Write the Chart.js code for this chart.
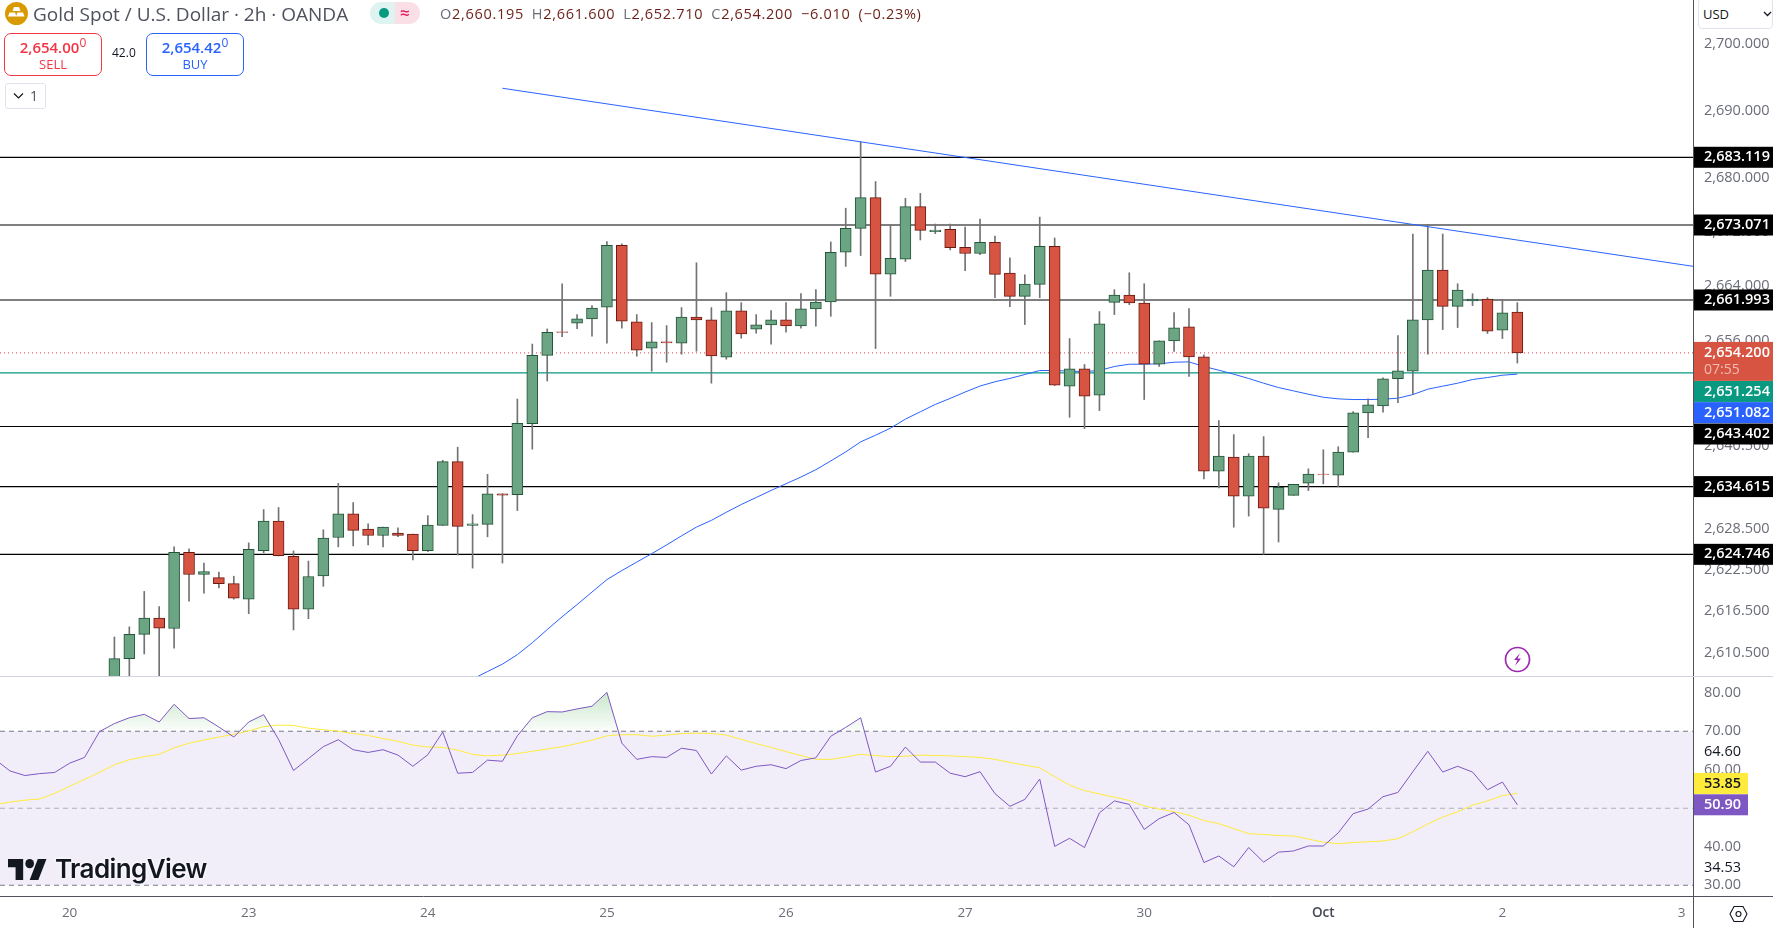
<!DOCTYPE html>
<html>
<head>
<meta charset="utf-8">
<script src="https://cdn.jsdelivr.net/npm/chart.js@4"></script>
<style>
  html, body { margin: 0; padding: 0; background: #fff; }
  body { width: 1773px; height: 928px; position: relative; overflow: hidden; font-family: "Open Sans", sans-serif; }
  canvas { position: absolute; left: 0; }
  .abs { position: absolute; white-space: nowrap; }
  #title { left: 33px; top: 1px; font-size: 19px; line-height: 26px; color: #4f525d; }
  #ohlc { left: 440px; top: 3px; font-size: 14.5px; line-height: 22px; color: #6b1f16; letter-spacing: 0.7px; word-spacing: 3.5px; }
  #ohlc i { font-style: normal; color: #6a6d78; }
  .trade { top: 33px; width: 96px; height: 41px; border-radius: 7px; border: 1px solid; text-align: center; background: #fff; }
  .trade b { display: block; font-size: 15px; line-height: 18px; margin-top: 4px; font-weight: 600; }
  .trade sup { font-size: 12px; font-weight: 400; line-height: 0; }
  .trade span { display: block; font-size: 13px; line-height: 17px; }
  #logoText { left: 55px; top: 853px; font-family: Inter, sans-serif; font-weight: 600; font-size: 26px; line-height: 32px; letter-spacing: -0.6px; color: #131722; text-shadow: 0 0 3px #fff, 0 0 3px #fff; }
</style>
</head>
<body>
<canvas id="price-chart" width="1773" height="677" style="top:0"></canvas>
<canvas id="rsi-chart" width="1773" height="251" style="top:677px"></canvas>

<svg class="abs" style="left:5px;top:2px" width="23" height="23" viewBox="0 0 23 23">
  <circle cx="11.5" cy="11.5" r="11.5" fill="#d99a00"/>
  <path d="M9 5h5l1.5 4h-8zM4.5 10.5h5.5l1.5 4h-8.500zM12.500 10.500h5.500l1.500 4h-8.500z" fill="#fff"/>
</svg>
<div id="title" class="abs">Gold Spot / U.S. Dollar · 2h · OANDA</div>
<div class="abs" style="left:370px;top:2px;width:25px;height:22px;background:#dff3f0;border-radius:11px 0 0 11px"></div>
<div class="abs" style="left:395px;top:2px;width:25px;height:22px;background:#fbdfe7;border-radius:0 11px 11px 0"></div>
<div class="abs" style="left:379px;top:8px;width:10px;height:10px;background:#089981;border-radius:5px"></div>
<div class="abs" style="left:400px;top:1px;font-size:17px;line-height:24px;color:#e91e63;font-weight:600">≈</div>
<div id="ohlc" class="abs"><i>O</i>2,660.195 <i>H</i>2,661.600 <i>L</i>2,652.710 <i>C</i>2,654.200 −6.010 (−0.23%)</div>

<div class="abs trade" style="left:4px;border-color:#f23645;color:#f23645"><b>2,654.00<sup>0</sup></b><span>SELL</span></div>
<div class="abs" style="left:112px;top:44px;font-size:12px;line-height:18px;color:#131722">42.0</div>
<div class="abs trade" style="left:146px;border-color:#2962ff;color:#2962ff"><b>2,654.42<sup>0</sup></b><span>BUY</span></div>
<div class="abs" style="left:5px;top:83px;width:39px;height:24px;border:1px solid #e0e3eb;border-radius:3px;background:#fff"></div>
<svg class="abs" style="left:13px;top:92px" width="11" height="8" viewBox="0 0 11 8"><path d="M1 1.500l4.500 4.500 4.500-4.500" fill="none" stroke="#131722" stroke-width="1.200"/></svg>
<div class="abs" style="left:30px;top:85px;font-size:14px;line-height:22px;color:#4f525d">1</div>

<div class="abs" style="left:1698px;top:-2px;width:75px;height:31px;border:1px solid #e0e3eb;border-radius:4px;box-sizing:border-box;background:#fff"></div>
<div class="abs" style="left:1703px;top:4px;font-size:13px;line-height:20px;color:#131722">USD</div>
<svg class="abs" style="left:1763px;top:11px" width="9" height="6" viewBox="0 0 9 6"><path d="M1 1l3.500 3.500 3.500-3.500" fill="none" stroke="#131722" stroke-width="1.300"/></svg>

<div class="abs" style="left:0;top:676px;width:1773px;height:1px;background:#d1d4dc"></div>
<div class="abs" style="left:1693px;top:896px;width:80px;height:1px;background:#50535e"></div>
<div class="abs" style="left:1693px;top:896px;width:1px;height:32px;background:#50535e"></div>

<svg class="abs" style="left:1504px;top:646px" width="27" height="27" viewBox="0 0 27 27">
  <circle cx="13.500" cy="13.500" r="12" fill="#fff" stroke="#9c27b0" stroke-width="1.700"/>
  <path d="M16 7l-6 7h3.500l-2.500 6 6-7.500h-3.500z" fill="#9c27b0"/>
</svg>
<svg class="abs" style="left:8px;top:859px" width="39" height="21" viewBox="0 4 36 18" preserveAspectRatio="none">
  <path d="M14 22H7V11H0V4h14v18zM28 22h-8l7.500-18h8L28 22z" fill="#131722"/><circle cx="20" cy="8" r="4" fill="#131722"/>
</svg>
<div id="logoText" class="abs">TradingView</div>
<svg class="abs" style="left:1729px;top:905px" width="19" height="18" viewBox="0 0 19 18">
  <path d="M5 1.500h9l4 7.500-4 7.500H5L1 9z" fill="none" stroke="#131722" stroke-width="1.100"/><circle cx="9.500" cy="9" r="2.500" fill="none" stroke="#131722" stroke-width="1.100"/>
</svg>

<script>
const xMin = 0.335;
const xMax = 113.77;
const firstCandle = 8;
const firstAverage = 31;

const opens = [
  2605.3, 2609.62, 2613.14, 2615.49, 2613.98, 2625.04, 2621.81, 2621.37, 2620.49, 2618.24,
  2625.29, 2629.6, 2624.46, 2616.77, 2621.62, 2627.2, 2630.63, 2628.42, 2627.49, 2627.84,
  2627.69, 2625.29, 2628.96, 2638.27, 2628.96, 2629.11, 2633.56, 2633.42, 2643.8, 2653.84,
  2657.29, 2658.56, 2659.2, 2660.92, 2670.07, 2658.76, 2654.89, 2655.82, 2655.63, 2659.49,
  2659.05, 2653.57, 2660.38, 2657.68, 2658.32, 2659.05, 2658.17, 2660.67, 2661.7, 2669.04,
  2672.57, 2677.13, 2665.81, 2668.02, 2675.8, 2672.08, 2672.42, 2669.78, 2668.85, 2670.51,
  2665.96, 2662.53, 2664.29, 2669.93, 2649.31, 2651.86, 2647.99, 2661.65, 2662.73, 2661.55,
  2652.54, 2655.97, 2658.03, 2653.62, 2636.87, 2638.93, 2633.2, 2639.08, 2631.3, 2633.34,
  2635.11, 2636.43, 2636.28, 2639.66, 2645.39, 2646.42, 2650.4, 2651.51, 2659.06, 2666.4,
  2661.06, 2661.85, 2662.14, 2657.54, 2660.195,
];
const closes = [
  2609.62, 2613.14, 2615.49, 2614.03, 2625.04, 2621.81, 2622.25, 2620.49, 2618.38, 2625.48,
  2629.6, 2624.55, 2616.77, 2621.52, 2627.1, 2630.63, 2628.23, 2627.49, 2628.72, 2627.49,
  2625.29, 2629.01, 2638.27, 2628.81, 2629.2, 2633.56, 2633.37, 2643.85, 2653.84, 2657.24,
  2657.2, 2659.2, 2660.81, 2670.07, 2658.86, 2654.6, 2655.82, 2655.67, 2659.49, 2659.05,
  2653.76, 2660.38, 2657.0, 2658.32, 2659.05, 2658.17, 2660.67, 2661.7, 2669.04, 2672.57,
  2677.13, 2665.81, 2668.16, 2675.8, 2672.28, 2672.33, 2669.73, 2668.85, 2670.51, 2665.76,
  2662.53, 2664.34, 2669.93, 2649.46, 2651.86, 2647.84, 2658.47, 2662.73, 2661.55, 2652.54,
  2655.97, 2657.88, 2653.62, 2636.87, 2639.08, 2633.2, 2639.08, 2631.45, 2634.52, 2634.96,
  2636.43, 2636.38, 2639.66, 2645.39, 2646.57, 2650.4, 2651.56, 2659.06, 2666.4, 2661.06,
  2663.46, 2662.14, 2657.39, 2660.08, 2654.2,
];
const highs = [
  2612.75, 2614.22, 2619.36, 2617.16, 2625.83, 2625.53, 2623.48, 2622.15, 2621.57, 2626.41,
  2631.26, 2631.56, 2625.24, 2623.77, 2628.32, 2635.08, 2632.29, 2629.2, 2628.72, 2628.62,
  2627.7, 2630.38, 2638.46, 2640.37, 2630.53, 2636.4, 2633.56, 2647.42, 2655.5, 2657.73,
  2664.39, 2659.84, 2661.16, 2670.61, 2670.27, 2659.84, 2658.66, 2658.22, 2660.87, 2667.48,
  2660.87, 2663.07, 2661.6, 2659.84, 2660.43, 2661.6, 2662.92, 2663.51, 2670.56, 2675.56,
  2685.4, 2679.52, 2673.06, 2677.03, 2677.76, 2673.21, 2673.21, 2672.77, 2673.94, 2671.44,
  2668.21, 2665.71, 2674.24, 2671.15, 2656.31, 2652.49, 2660.28, 2663.51, 2666.01, 2664.39,
  2655.97, 2660.13, 2660.72, 2653.9, 2644.27, 2642.21, 2639.42, 2641.92, 2635.16, 2634.96,
  2637.21, 2640.0, 2640.44, 2645.59, 2647.45, 2650.53, 2656.75, 2671.74, 2673.16, 2671.74,
  2664.39, 2662.92, 2662.34, 2662.04, 2661.6,
];
const lows = [
  2604, 2605, 2610.3, 2605, 2611.14, 2617.94, 2619.12, 2619.85, 2618.24, 2616.13,
  2624.99, 2624.5, 2613.78, 2615.4, 2620.1, 2625.83, 2625.97, 2626.12, 2625.83, 2627.3,
  2623.92, 2625.14, 2628.96, 2624.65, 2622.74, 2627.3, 2623.48, 2631.12, 2640.08, 2650.07,
  2656.6, 2657.78, 2656.65, 2655.63, 2657.83, 2653.72, 2651.51, 2652.83, 2654.01, 2654.45,
  2649.75, 2653.27, 2656.36, 2657.1, 2655.48, 2657.24, 2657.83, 2658.12, 2659.59, 2666.94,
  2668.55, 2654.84, 2662.53, 2667.67, 2670.86, 2671.79, 2669.39, 2666.3, 2668.7, 2662.33,
  2661.01, 2658.37, 2662.33, 2649.4, 2644.75, 2643.09, 2645.73, 2659.84, 2661.31, 2647.35,
  2652.2, 2654.4, 2650.73, 2635.74, 2634.42, 2628.69, 2630.31, 2624.75, 2626.54, 2633.34,
  2634.03, 2635.01, 2634.57, 2639.66, 2641.77, 2645.49, 2646.91, 2648.1, 2654.01, 2657.63,
  2657.93, 2661.16, 2657.05, 2656.31, 2652.71,
];
const priceAverage = [
  2605.8, 2606.68, 2607.76, 2608.83, 2610.2, 2611.92, 2613.83, 2615.69, 2617.45, 2619.27,
  2621.07, 2622.39, 2623.62, 2624.84, 2626.11, 2627.44, 2628.71, 2629.69, 2630.87, 2632.0,
  2633.02, 2634.05, 2635.03, 2636.01, 2637.08, 2638.36, 2639.68, 2641.15, 2642.13, 2643.16,
  2644.48, 2645.56, 2646.63, 2647.52, 2648.45, 2649.33, 2649.96, 2650.45, 2651.02, 2651.61,
  2651.61, 2651.51, 2651.46, 2651.61, 2652.2, 2652.54, 2652.54, 2652.59, 2652.83, 2652.88,
  2652.2, 2651.66, 2651.07, 2650.44, 2649.75, 2649.11, 2648.62, 2648.13, 2647.69, 2647.45,
  2647.35, 2647.35, 2647.4, 2647.55, 2648.08, 2648.87, 2649.31, 2649.75, 2650.29, 2650.58,
  2650.92, 2651.082,
];
const rsiValues = [
  62.7, 59.7, 58.5, 59.0, 59.3, 61.7, 63.2, 69.9, 72.0, 73.5,
  74.4, 72.4, 77.0, 73.3, 73.5, 71.1, 68.5, 72.4, 74.3, 67.9,
  59.8, 62.9, 66.0, 67.8, 65.2, 64.5, 65.2, 63.8, 60.9, 63.9,
  69.8, 59.1, 59.3, 62.5, 62.2, 68.8, 73.5, 75.1, 75.0, 75.8,
  76.5, 80.1, 66.9, 62.7, 63.4, 63.2, 65.6, 65.0, 58.9, 63.6,
  59.9, 60.9, 61.3, 60.3, 62.4, 63.1, 68.7, 71.0, 73.5, 59.4,
  60.9, 65.9, 62.0, 62.0, 59.1, 58.2, 59.5, 53.8, 50.5, 52.3,
  57.6, 40.1, 42.2, 39.8, 48.8, 51.9, 51.0, 44.5, 47.3, 48.9,
  45.7, 35.9, 37.6, 34.8, 39.8, 36.0, 38.6, 38.9, 40.2, 40.2,
  43.6, 48.6, 49.8, 53.0, 54.1, 59.5, 64.8, 59.4, 60.9, 59.4,
  54.8, 56.8, 50.9,
];
const rsiAverage = [
  50.9, 51.6, 52.1, 52.4, 53.9, 55.7, 57.5, 59.3, 61.3, 62.6,
  63.4, 64.0, 65.7, 66.9, 67.7, 68.5, 69.2, 70.1, 71.2, 71.6,
  71.5, 70.8, 70.4, 70.0, 69.4, 68.9, 68.1, 67.4, 66.4, 65.9,
  65.8, 65.1, 64.0, 63.6, 63.8, 64.2, 64.8, 65.4, 66.0, 66.8,
  67.7, 68.8, 69.1, 69.1, 68.7, 69.0, 69.4, 69.5, 69.4, 69.0,
  67.9, 66.8, 65.8, 64.7, 63.7, 62.7, 62.7, 63.3, 64.0, 63.7,
  63.4, 63.5, 63.8, 63.7, 63.6, 63.4, 63.2, 62.7, 61.9, 61.2,
  60.5, 58.2, 56.0, 54.6, 53.7, 52.9, 52.0, 50.6, 49.8, 49.1,
  48.2, 46.8, 46.0, 44.7, 43.4, 43.2, 42.9, 42.8, 42.0, 41.2,
  40.8, 41.1, 41.3, 41.5, 42.1, 43.9, 45.9, 47.7, 49.1, 50.8,
  51.9, 53.3, 53.85,
];

const levels = [2683.119, 2673.071, 2661.993, 2643.402, 2634.615, 2624.746];
const lastPrice = 2654.2;
const currentLine = 2651.254;
const trendBars = [34, 113.77];
const trendPrices = [2693.4, 2666.96];

const priceTicks = [2700, 2690, 2680, 2672, 2664, 2656, 2648, 2640.5, 2634.5, 2628.5, 2622.5, 2616.5, 2610.5];
const rsiTicks = [80, 70, 64.6, 60, 40, 34.53, 30];
const rsiMarked = [64.6, 34.53];
const dayBars = [5, 17, 29, 41, 53, 65, 77, 89, 101, 113];
const dayLabels = ["20", "23", "24", "25", "26", "27", "30", "Oct", "2", "3"];

const axisFont = { family: "'Open Sans', sans-serif", size: 14.5 };
const tagFont = "600 14.5px 'Open Sans', sans-serif";
const green = "#6ba583";
const greenEdge = "#225437";
const red = "#d75442";
const redEdge = "#6b1a12";

function seriesFrom(start, values) {
  return values.map((y, i) => ({ x: start + i, y }));
}

function hLine(value, color, width, dash, order) {
  return {
    type: "line",
    data: [{ x: xMin, y: value }, { x: xMax, y: value }],
    borderColor: color,
    borderWidth: width,
    borderDash: dash,
    pointRadius: 0,
    order,
  };
}

function yAxis(min, max, ticks, format, color) {
  return {
    position: "right",
    min,
    max,
    afterBuildTicks: (scale) => {
      scale.ticks = ticks.map((value) => ({ value }));
    },
    afterFit: (scale) => {
      scale.width = 80;
      scale.paddingTop = 0;
      scale.paddingBottom = 0;
    },
    grid: { display: false, drawTicks: false },
    border: { display: true, color: "#50535e" },
    ticks: { autoSkip: false, padding: 11, crossAlign: "near", font: axisFont, color, callback: format },
  };
}

function money(value, digits) {
  return value.toLocaleString("en-US", { minimumFractionDigits: digits, maximumFractionDigits: digits });
}

// tag boxes on the right axis, offset is the shift TradingView uses to stop them overlapping
function drawTag(chart, scale, value, fill, ink, width, digits, offset) {
  const ctx = chart.ctx;
  const y = scale.getPixelForValue(value) + offset;
  ctx.save();
  ctx.fillStyle = fill;
  ctx.fillRect(scale.left + 1, y - 10.5, width, 21);
  ctx.fillStyle = ink;
  ctx.font = tagFont;
  ctx.textBaseline = "middle";
  ctx.fillText(money(value, digits), scale.left + 11, y);
  ctx.restore();
}

const priceTags = {
  id: "priceTags",
  afterDraw(chart) {
    const scale = chart.scales.y;
    const ctx = chart.ctx;
    levels.forEach((level) => {
      drawTag(chart, scale, level, "#000", "#fff", 79, 3, level === 2643.402 ? 7.5 : 0);
    });
    const y = scale.getPixelForValue(lastPrice);
    ctx.save();
    ctx.fillStyle = red;
    ctx.fillRect(scale.left + 1, y - 11, 79, 39);
    ctx.fillStyle = "#fff";
    ctx.font = tagFont;
    ctx.textBaseline = "middle";
    ctx.fillText(money(lastPrice, 3), scale.left + 11, y - 0.5);
    ctx.fillStyle = "rgba(255,255,255,0.6)";
    ctx.font = "14px 'Open Sans', sans-serif";
    ctx.fillText("07:55", scale.left + 11, y + 17.5);
    ctx.restore();
    drawTag(chart, scale, currentLine, "#089981", "#fff", 79, 3, 18.5);
    drawTag(chart, scale, priceAverage[priceAverage.length - 1], "#2962ff", "#fff", 79, 3, 38.5);
  },
};

const rsiTags = {
  id: "rsiTags",
  afterDraw(chart) {
    const scale = chart.scales.y;
    drawTag(chart, scale, rsiAverage[rsiAverage.length - 1], "#ffeb3b", "#131722", 54, 2, -10);
    drawTag(chart, scale, rsiValues[rsiValues.length - 1], "#7e57c2", "#fff", 54, 2, 0);
  },
};

const candleBars = closes.map((_, i) => firstCandle + i);

new Chart(document.getElementById("price-chart"), {
  type: "bar",
  data: {
    datasets: [
      ...levels.map((level) => hLine(level, "#000", 1.2, [], 7)),
      hLine(lastPrice, "#f23645", 1, [1, 3], 6),
      hLine(currentLine, "#089981", 1.2, [], 6),
      {
        type: "line",
        data: seriesFrom(firstAverage, priceAverage),
        borderColor: "#2962ff",
        borderWidth: 1,
        pointRadius: 0,
        order: 5,
      },
      {
        data: candleBars.map((x, i) => ({ x, y: [lows[i], highs[i]] })),
        backgroundColor: "#737375",
        borderWidth: 0,
        barThickness: 1,
        grouped: false,
        order: 4,
      },
      {
        data: candleBars.map((x, i) => ({ x, y: [opens[i], closes[i]] })),
        backgroundColor: closes.map((c, i) => (c >= opens[i] ? green : red)),
        borderColor: closes.map((c, i) => (c >= opens[i] ? greenEdge : redEdge)),
        borderWidth: 1,
        borderSkipped: false,
        barThickness: 11,
        grouped: false,
        order: 3,
      },
      {
        type: "line",
        data: trendBars.map((x, i) => ({ x, y: trendPrices[i] })),
        borderColor: "#2962ff",
        borderWidth: 1,
        pointRadius: 0,
        order: 1,
      },
    ],
  },
  options: {
    responsive: false,
    animation: false,
    events: [],
    devicePixelRatio: 1,
    layout: { padding: 0, autoPadding: false },
    plugins: { legend: { display: false }, tooltip: { enabled: false } },
    scales: {
      x: { type: "linear", display: false, min: xMin, max: xMax, offset: false },
      // the source price pane is on a log scale, spacing shrinks towards the top
      y: { ...yAxis(2606.97, 2706.6, priceTicks, (v) => money(v, 3), "#6a6d78"), type: "logarithmic" },
    },
  },
  plugins: [priceTags],
});

const rsiChart = new Chart(document.getElementById("rsi-chart"), {
  type: "line",
  data: {
    datasets: [
      {
        data: [{ x: xMin, y: 70 }, { x: xMax, y: 70 }],
        borderWidth: 0,
        pointRadius: 0,
        backgroundColor: "rgba(126,87,194,0.1)",
        fill: { value: 30 },
        order: 9,
      },
      hLine(70, "#787b86", 1, [5, 4], 8),
      hLine(50, "rgba(120,123,134,0.55)", 1, [5, 4], 8),
      hLine(30, "#787b86", 1, [5, 4], 8),
      {
        data: seriesFrom(0, rsiAverage),
        borderColor: "#ffeb3b",
        borderWidth: 1,
        pointRadius: 0,
        order: 2,
      },
      {
        data: seriesFrom(0, rsiValues),
        borderColor: "#7e57c2",
        borderWidth: 1,
        pointRadius: 0,
        fill: { target: { value: 70 }, above: "rgba(76,175,80,0.2)", below: "rgba(0,0,0,0)" },
        order: 1,
      },
    ],
  },
  options: {
    responsive: false,
    animation: false,
    events: [],
    devicePixelRatio: 1,
    layout: { padding: 0, autoPadding: false },
    plugins: { legend: { display: false }, tooltip: { enabled: false } },
    scales: {
      x: {
        type: "linear",
        position: "bottom",
        min: xMin,
        max: xMax,
        afterBuildTicks: (scale) => {
          scale.ticks = dayBars.map((value) => ({ value }));
        },
        afterFit: (scale) => {
          scale.height = 32;
          scale.paddingLeft = 0;
          scale.paddingRight = 0;
        },
        grid: { display: false, drawTicks: false },
        border: { display: true, color: "#50535e" },
        ticks: {
          autoSkip: false,
          maxRotation: 0,
          padding: 9,
          font: (ctx) => ({ family: axisFont.family, size: 13.5, weight: ctx.tick && ctx.tick.value === 89 ? "600" : "400" }),
          color: (ctx) => (ctx.tick && ctx.tick.value === 89 ? "#434651" : "#6a6d78"),
          callback: (value) => dayLabels[dayBars.indexOf(value)],
        },
      },
      y: yAxis(27.21, 84.09, rsiTicks, (v) => money(v, 2), (ctx) => (rsiMarked.includes(ctx.tick.value) ? "#131722" : "#6a6d78")),
    },
  },
  plugins: [rsiTags],
});

// overbought wash fades out towards the 70 line
const rsiY = rsiChart.scales.y;
const wash = rsiChart.ctx.createLinearGradient(0, rsiY.getPixelForValue(80), 0, rsiY.getPixelForValue(70));
wash.addColorStop(0, "rgba(76,175,80,0.3)");
wash.addColorStop(1, "rgba(76,175,80,0.02)");
rsiChart.data.datasets[5].fill.above = wash;
rsiChart.update("none");
</script>
</body>
</html>
